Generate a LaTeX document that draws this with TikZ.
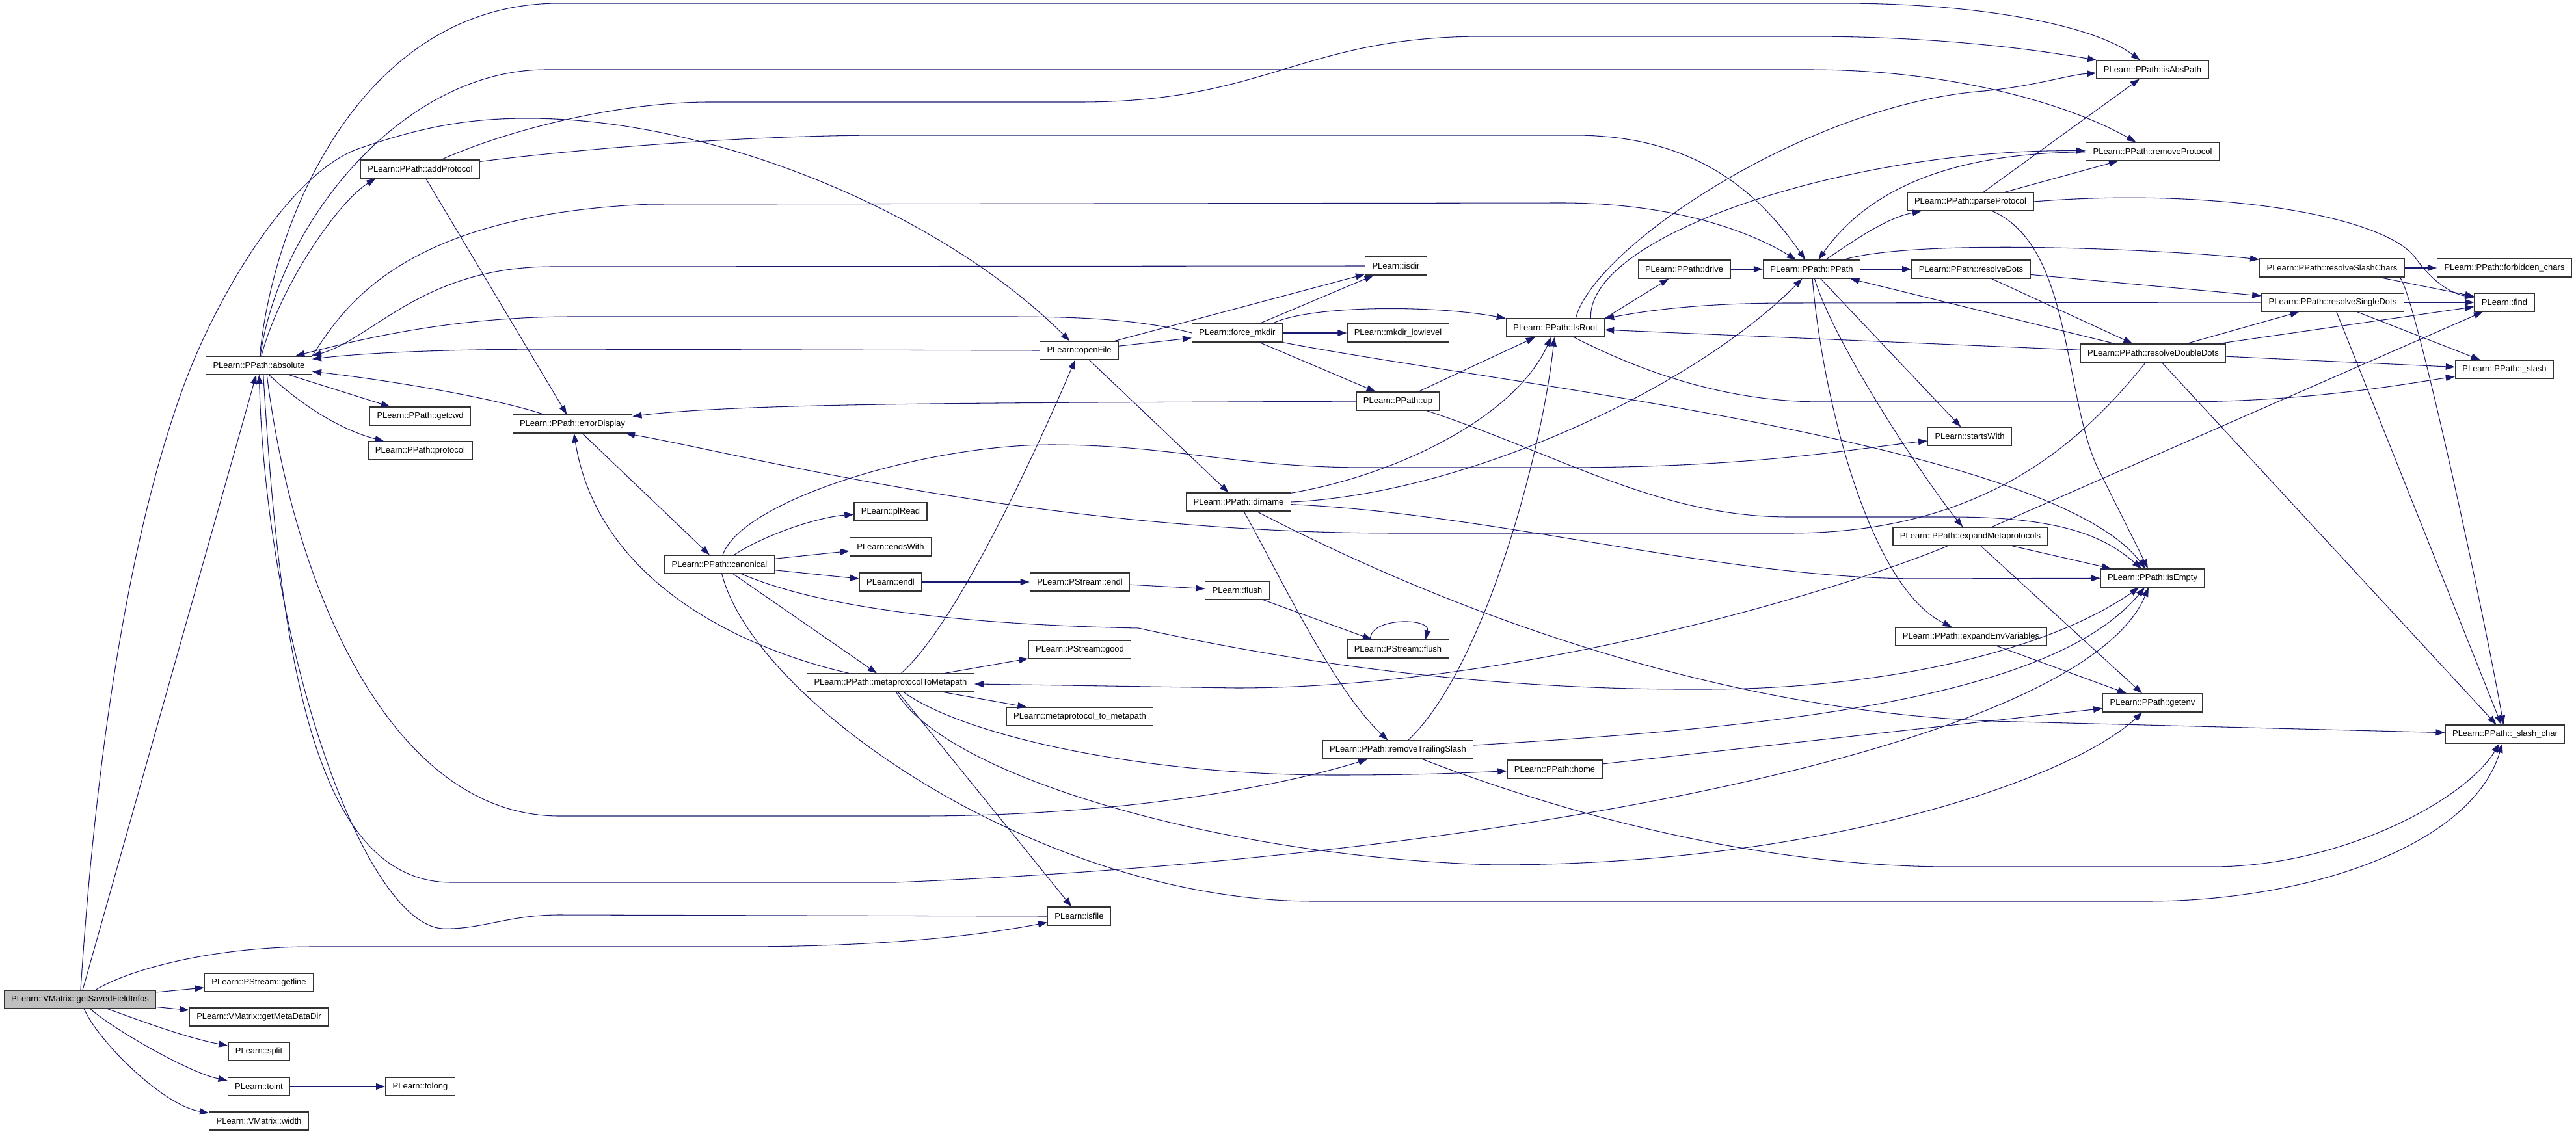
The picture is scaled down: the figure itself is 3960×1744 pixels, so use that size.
\documentclass[tikz,border=0pt]{standalone}
\usepackage{fontspec}
\setmainfont{Liberation Sans}
\usetikzlibrary{arrows.meta}
\definecolor{midnight}{HTML}{191970}

\begin{document}
\begin{tikzpicture}[x=0.02cm, y=-0.02cm,
    fn/.style={draw=black!80, line width=0.7pt, fill=white, inner xsep=6.2pt, inner ysep=0pt,
      minimum height=15.9pt, font=\fontsize{7.4}{9}\selectfont},
    callto/.style={draw=midnight, line width=0.6pt, -{Triangle[length=8pt,width=5.6pt]}}]
\useasboundingbox (0,0) rectangle (3960,1744);
\fill[white] (0,0) rectangle (3960,1744);

\node[fn, fill=black!25] (root) at (123,1537) {PLearn::VMatrix::getSavedFieldInfos};
\foreach \nm/\x/\y/\lbl in {
    getline/398/1511/PLearn::PStream::getline,
    metaDir/398/1564/PLearn::VMatrix::getMetaDataDir,
    split/398/1617/PLearn::split,
    toint/398/1671/PLearn::toint,
    tolong/646/1671/PLearn::tolong,
    vwidth/398/1724/PLearn::VMatrix::width,
    absolute/398/562/PLearn::PPath::absolute,
    addProtocol/646/260/PLearn::PPath::addProtocol,
    getcwd/646/640/PLearn::PPath::getcwd,
    protocol/646/693/PLearn::PPath::protocol,
    errorDisplay/880/652/PLearn::PPath::errorDisplay,
    canonical/1106/868/PLearn::PPath::canonical,
    plRead/1369/787/PLearn::plRead,
    endsWith/1369/841/PLearn::endsWith,
    endl/1369/895/PLearn::endl,
    metaToMeta/1369/1050/PLearn::PPath::metaprotocolToMetapath,
    openFile/1659/539/PLearn::openFile,
    psEndl/1660/895/PLearn::PStream::endl,
    psGood/1660/999/PLearn::PStream::good,
    metaUnd/1660/1102/PLearn::metaprotocol\_to\_metapath,
    isfile/1659/1409/PLearn::isfile,
    forceMkdir/1902/512/PLearn::force\_mkdir,
    dirname/1904/772/PLearn::PPath::dirname,
    flush/1902/908/PLearn::flush,
    isdir/2146/409/PLearn::isdir,
    mkdirLow/2149/512/PLearn::mkdir\_lowlevel,
    up/2149/617/PLearn::PPath::up,
    psFlush/2149/998/PLearn::PStream::flush,
    trailing/2149/1153/PLearn::PPath::removeTrailingSlash,
    isRoot/2391/504/PLearn::PPath::IsRoot,
    home/2390/1183/PLearn::PPath::home,
    drive/2589/414/PLearn::PPath::drive,
    ppath/2785/414/PLearn::PPath::PPath,
    parseProt/3029/310/PLearn::PPath::parseProtocol,
    resDots/3030/414/PLearn::PPath::resolveDots,
    startsWith/3028/671/PLearn::startsWith,
    expMeta/3029/825/PLearn::PPath::expandMetaprotocols,
    expEnv/3030/979/PLearn::PPath::expandEnvVariables,
    isAbsPath/3309/107/PLearn::PPath::isAbsPath,
    remProt/3309/233/PLearn::PPath::removeProtocol,
    resDouble/3310/543/PLearn::PPath::resolveDoubleDots,
    isEmpty/3309/889/PLearn::PPath::isEmpty,
    getenv/3309/1081/PLearn::PPath::getenv,
    resSlash/3585/412/PLearn::PPath::resolveSlashChars,
    resSingle/3586/465/PLearn::PPath::resolveSingleDots,
    forbidden/3850/412/PLearn::PPath::forbidden\_chars,
    find/3850/465/PLearn::find,
    slash/3850/568/PLearn::PPath::\_slash,
    slashChar/3851/1129/PLearn::PPath::\_slash\_char}
  \node[fn] (\nm) at (\x,\y) {\lbl};

\foreach \a/\b in {root/getline, root/metaDir, root/absolute, toint/tolong, absolute/getcwd,
    addProtocol/errorDisplay, errorDisplay/canonical, canonical/endsWith, canonical/endl,
    canonical/metaToMeta, endl/psEndl, psEndl/flush, flush/psFlush, metaToMeta/psGood,
    metaToMeta/metaUnd, metaToMeta/isfile, openFile/dirname, openFile/forceMkdir, openFile/isdir,
    forceMkdir/isdir, forceMkdir/mkdirLow, forceMkdir/up, up/isRoot, drive/ppath, ppath/resDots,
    ppath/startsWith, resDots/resSingle, resDots/resDouble, resDouble/ppath, resDouble/isRoot,
    resDouble/find, resDouble/slash, resDouble/resSingle, resDouble/slashChar, resSingle/find,
    resSingle/slash, resSingle/slashChar, resSlash/forbidden, resSlash/find, parseProt/remProt,
    parseProt/isAbsPath, expMeta/find, expMeta/isEmpty, expMeta/getenv, expEnv/getenv, home/getenv}
  \draw[callto] (\a) -- (\b);

\draw[callto] (root) .. controls (190,1560) and (280,1595) .. (split);
\draw[callto] (root) .. controls (170,1580) and (290,1650) .. (toint);
\draw[callto] (root) .. controls (150,1600) and (250,1700) .. (vwidth);
\draw[callto] (root) .. controls (200,1490) and (330,1456) .. (480,1456) -- (1136,1456) .. controls (1350,1456) and (1500,1440) .. (isfile);
\draw[callto] (root) .. controls (145,1200) and (190,850) .. (280,600) .. controls (334,450) and (450,260) .. (556,227) .. controls (650,195) and (720,182) .. (811,182) .. controls (1100,182) and (1450,330) .. (openFile);

\draw[callto] (absolute) .. controls (430,440) and (520,310) .. (addProtocol.192);
\draw[callto] (absolute) .. controls (420,330) and (560,5) .. (860,5) -- (2830,5) .. controls (3050,5) and (3220,40) .. (isAbsPath);
\draw[callto] (absolute) .. controls (430,340) and (620,107) .. (840,107) -- (2780,107) .. controls (3000,107) and (3180,160) .. (remProt);
\draw[callto] (absolute.north east) .. controls (530,470) and (620,330) .. (1000,314) -- (2400,312) .. controls (2560,312) and (2680,350) .. (ppath);
\draw[callto] (absolute) .. controls (460,620) and (520,660) .. (protocol);
\draw[callto] (absolute.-50) .. controls (450,900) and (600,1255) .. (860,1255) -- (1414,1255) .. controls (1700,1255) and (1950,1215) .. (trailing);
\draw[callto] (absolute.-65) .. controls (430,1000) and (480,1357) .. (694,1357) -- (1376,1357) .. controls (2300,1320) and (3200,1150) .. (isEmpty);

\draw[callto] (isfile.west) -- (860,1407) .. controls (780,1407) and (740,1430) .. (680,1428) .. controls (560,1420) and (410,1000) .. (absolute);
\draw[callto] (openFile.west) -- (850,537) .. controls (650,537) and (540,545) .. (absolute);
\draw[callto] (isdir.west) -- (850,410) .. controls (650,410) and (575,520) .. (absolute.north east);
\draw[callto] (forceMkdir.west) .. controls (1750,490) and (1650,487) .. (1550,487) -- (880,487) .. controls (700,487) and (560,520) .. (absolute);
\draw[callto] (errorDisplay) .. controls (760,612) and (600,585) .. (absolute);

\draw[callto] (addProtocol) .. controls (780,200) and (950,157) .. (1090,157) -- (1660,157) .. controls (1950,157) and (2000,56) .. (2280,56) -- (2780,56) .. controls (3000,56) and (3150,80) .. (isAbsPath);
\draw[callto] (addProtocol) .. controls (900,228) and (1150,208) .. (1360,208) -- (2420,208) .. controls (2600,208) and (2700,290) .. (ppath);

\draw[callto] (metaToMeta) .. controls (1150,1000) and (920,900) .. (errorDisplay);
\draw[callto] (up.west) .. controls (1600,620) and (1150,618) .. (errorDisplay);
\draw[callto] (resDouble) .. controls (3200,680) and (3050,820) .. (2750,820) -- (2150,820) .. controls (1600,820) and (1150,700) .. (errorDisplay);

\draw[callto] (canonical) .. controls (1180,820) and (1260,795) .. (plRead);
\draw[callto] (canonical) .. controls (1140,770) and (1420,684) .. (1616,684) .. controls (1800,684) and (1900,719) .. (2100,719) -- (2400,719) .. controls (2700,719) and (2850,690) .. (startsWith);
\draw[callto] (canonical) .. controls (1250,930) and (1450,960) .. (1750,966) .. controls (1950,1010) and (2250,1062) .. (2620,1060) .. controls (2900,1060) and (3150,1000) .. (isEmpty);
\draw[callto] (canonical) .. controls (1160,1080) and (1600,1386) .. (2020,1386) -- (3300,1386) .. controls (3550,1386) and (3800,1300) .. (slashChar);

\draw[callto] (metaToMeta) .. controls (1470,960) and (1590,700) .. (openFile);
\draw[callto] (metaToMeta) .. controls (1480,1130) and (1750,1192) .. (2050,1192) .. controls (2200,1192) and (2260,1188) .. (home);
\draw[callto] (metaToMeta) .. controls (1460,1200) and (1900,1320) .. (2300,1330) .. controls (2800,1330) and (3180,1200) .. (getenv);
\draw[callto] (expMeta) .. controls (2850,900) and (2350,1058) .. (1900,1058) -- (metaToMeta);

\draw[callto] (dirname) .. controls (1970,890) and (2050,1060) .. (trailing);
\draw[callto] (trailing) .. controls (2280,1030) and (2370,700) .. (isRoot);
\draw[callto] (trailing) .. controls (2700,1120) and (3150,1080) .. (isEmpty);
\draw[callto] (trailing) .. controls (2400,1250) and (2700,1333) .. (3000,1333) -- (3400,1333) .. controls (3600,1333) and (3790,1230) .. (slashChar);
\draw[callto] (dirname) .. controls (2150,900) and (2600,1100) .. (3100,1110) -- (slashChar);
\draw[callto] (dirname) .. controls (2150,730) and (2330,640) .. (isRoot);
\draw[callto] (dirname.east) .. controls (2250,760) and (2600,600) .. (ppath);
\draw[callto] (dirname) .. controls (2300,790) and (2650,890) .. (2950,890) -- (isEmpty);
\draw[callto] (up) .. controls (2400,700) and (2550,795) .. (2750,795) -- (3000,795) .. controls (3180,795) and (3240,830) .. (isEmpty);
\draw[callto] (forceMkdir.south east) .. controls (2300,590) and (3150,680) .. (isEmpty);
\draw[callto] (forceMkdir.15) .. controls (2010,470) and (2200,468) .. (isRoot);

\draw[callto] (isRoot.25) .. controls (2450,380) and (2780,160) .. (3050,140) .. controls (3130,132) and (3180,115) .. (isAbsPath);
\draw[callto] (isRoot.15) .. controls (2440,360) and (2850,228) .. (remProt);
\draw[callto] (isRoot.north east) -- (drive);
\draw[callto] (isRoot) .. controls (2520,570) and (2650,618) .. (2800,618) -- (3350,618) .. controls (3550,618) and (3700,590) .. (slash);
\draw[callto] (resSingle.west) -- (2750,466) .. controls (2600,466) and (2520,480) .. (isRoot);

\draw[callto] (ppath) .. controls (2850,370) and (2900,335) .. (parseProt);
\draw[callto] (ppath) .. controls (2950,365) and (3350,385) .. (resSlash);
\draw[callto] (ppath) .. controls (2820,530) and (2960,740) .. (expMeta);
\draw[callto] (ppath) .. controls (2800,600) and (2870,900) .. (expEnv);
\draw[callto] (remProt) .. controls (3020,235) and (2880,280) .. (ppath);

\draw[callto] (parseProt.east) .. controls (3400,288) and (3660,330) .. (3712,395) .. controls (3740,435) and (3770,452) .. (find);
\draw[callto] (parseProt) .. controls (3190,380) and (3170,620) .. (3230,730) .. controls (3265,800) and (3290,850) .. (isEmpty);
\draw[callto] (resSlash.-8) .. controls (3710,440) and (3820,950) .. (slashChar);
\draw[callto] (psFlush.161) .. controls +(-2,-34) and +(8,-34) .. (psFlush.19);
\end{tikzpicture}
\end{document}
